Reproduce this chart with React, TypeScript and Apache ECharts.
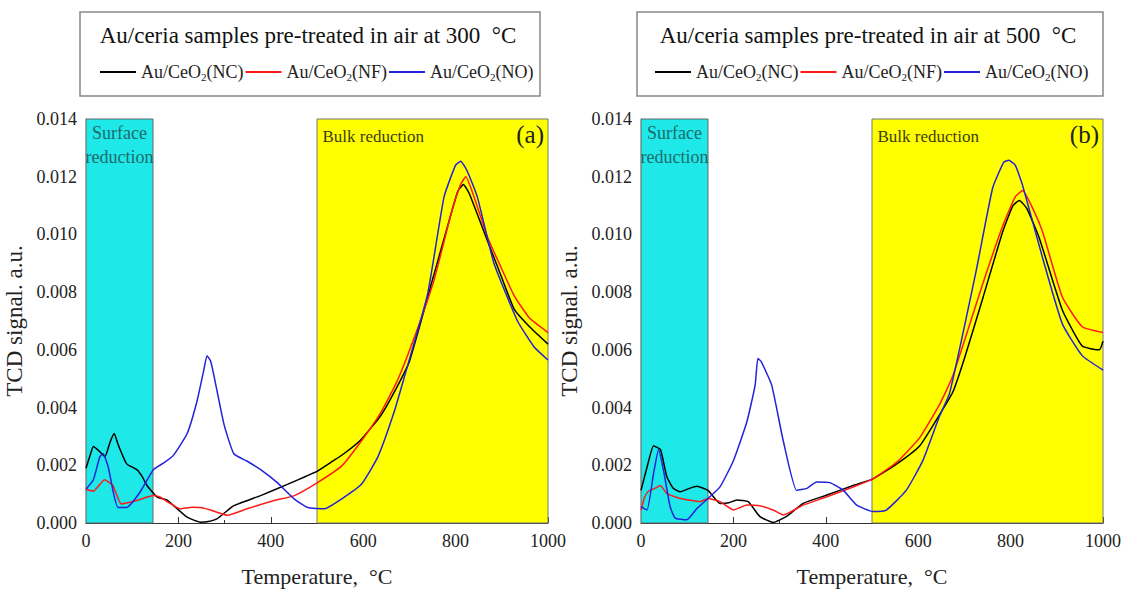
import React, { useEffect, useRef } from "react";
import * as echarts from "echarts";

const seriesNames = ["Au/CeO2(NC)", "Au/CeO2(NF)", "Au/CeO2(NO)"];
const seriesColors = ["#000000", "#ff1a1a", "#2222d8"];
const panelTitles = [
  "Au/ceria samples pre-treated in air at 300  °C",
  "Au/ceria samples pre-treated in air at 500  °C",
];
const panelTags = ["(a)", "(b)"];
const surfaceRange = [0, 145];
const bulkRange = [500, 1000];
const xTicks = { min: 0, max: 1000, interval: 200 };
const yTicks = { min: 0, max: 0.014, interval: 0.002 };

// Panel (a): pre-treated at 300 °C  — [temperature, TCD signal]
const ncA = [[0,0.0019],[8,0.0023],[16,0.00265],[28,0.0025],[41,0.0023],[52,0.0028],[61,0.0031],[70,0.0027],[88,0.00205],[110,0.00185],[122,0.0016],[132,0.0013],[154,0.0009],[175,0.0008],[190,0.0006],[219,0.0002],[248,0.00003],[265,0.00005],[284,0.00015],[320,0.0006],[378,0.00095],[436,0.00134],[501,0.0018],[530,0.0021],[558,0.0024],[594,0.00287],[637,0.0037],[666,0.0045],[700,0.0056],[753,0.0086],[790,0.0107],[805,0.0115],[817,0.01173],[830,0.0114],[866,0.0099],[900,0.0085],[927,0.0074],[960,0.0068],[1000,0.0062]];
const nfA = [[0,0.00117],[16,0.0011],[28,0.0013],[40,0.0015],[58,0.0013],[76,0.00066],[90,0.0007],[110,0.00078],[146,0.00095],[160,0.0009],[180,0.0007],[203,0.00049],[230,0.00055],[248,0.00054],[270,0.00045],[284,0.00037],[306,0.00027],[350,0.0005],[407,0.00078],[451,0.00095],[501,0.0014],[553,0.00197],[594,0.0028],[637,0.0038],[673,0.0049],[710,0.0064],[753,0.0084],[790,0.0107],[810,0.0117],[822,0.012],[840,0.0113],[869,0.0099],[900,0.0088],[926,0.0079],[960,0.0071],[1000,0.0066]];
const noA = [[0,0.00117],[16,0.0015],[30,0.0023],[37,0.0024],[48,0.00195],[60,0.001],[69,0.00054],[88,0.00054],[116,0.00105],[146,0.00185],[170,0.0021],[190,0.00236],[219,0.0031],[240,0.0042],[255,0.0053],[262,0.0058],[270,0.0056],[277,0.0051],[299,0.0034],[320,0.0024],[349,0.00214],[378,0.00185],[414,0.0014],[451,0.00083],[480,0.00054],[516,0.00049],[553,0.00083],[596,0.00134],[632,0.0023],[666,0.0038],[688,0.005],[739,0.0079],[775,0.0113],[800,0.0124],[811,0.01254],[825,0.0122],[847,0.0113],[883,0.009],[934,0.007],[970,0.0061],[1000,0.00565]];

// Panel (b): pre-treated at 500 °C
const ncB = [[0,0.00113],[13,0.00193],[27,0.00267],[42,0.00255],[56,0.0016],[70,0.0012],[85,0.00108],[105,0.0012],[121,0.00127],[145,0.00113],[171,0.00068],[190,0.0007],[207,0.0008],[232,0.00074],[257,0.00023],[286,0.00002],[315,0.00023],[351,0.00068],[401,0.00096],[459,0.0013],[502,0.00153],[553,0.00204],[603,0.00267],[646,0.00375],[675,0.00454],[700,0.0057],[740,0.0078],[783,0.0101],[805,0.011],[819,0.01118],[835,0.0109],[862,0.00988],[912,0.00738],[955,0.00613],[992,0.006],[1000,0.0063]];
const nfB = [[0,0.00045],[8,0.0009],[16,0.0011],[30,0.0012],[42,0.0013],[56,0.00102],[85,0.00085],[128,0.00074],[145,0.00085],[171,0.00074],[200,0.00045],[229,0.00062],[257,0.0006],[286,0.00045],[308,0.00028],[351,0.00062],[401,0.0009],[459,0.00125],[502,0.00153],[553,0.0021],[603,0.00295],[646,0.0041],[675,0.0051],[740,0.0083],[783,0.0103],[810,0.0113],[826,0.01152],[845,0.011],[869,0.0101],[912,0.00783],[955,0.0068],[1000,0.0066]];
const noB = [[0,0.00057],[13,0.00045],[27,0.0017],[38,0.00255],[49,0.0018],[63,0.00057],[74,0.00017],[99,0.00011],[121,0.0005],[145,0.00085],[171,0.00125],[200,0.00216],[229,0.0035],[247,0.00477],[253,0.0057],[260,0.0056],[283,0.00477],[308,0.00284],[337,0.00113],[359,0.0012],[380,0.00142],[409,0.0014],[438,0.00113],[467,0.00062],[502,0.0004],[531,0.00045],[574,0.00113],[610,0.00216],[646,0.0037],[668,0.0045],[725,0.0087],[761,0.0116],[785,0.0125],[796,0.01257],[810,0.0124],[826,0.0117],[869,0.0092],[912,0.0069],[955,0.0058],[1000,0.0053]];

const panelData = [
  [ncA, nfA, noA],
  [ncB, nfB, noB],
];

const FONT = "'Liberation Serif', 'Times New Roman', serif";

export default function App() {
  const ref = useRef<HTMLDivElement>(null);
  useEffect(() => {
    if (!ref.current) return;
    const chart = echarts.init(ref.current, null, { renderer: "svg" });
    const grids = [
      { left: 86, top: 119, width: 462, height: 411 },
      { left: 641, top: 119, width: 462, height: 411 },
    ];
    const xAxes = grids.map((_, i) => ({
      type: "value",
      gridIndex: i,
      min: xTicks.min,
      max: xTicks.max,
      interval: xTicks.interval,
      name: "Temperature,  °C",
      nameLocation: "middle",
      nameGap: 42,
      nameTextStyle: { fontFamily: FONT, fontSize: 22, color: "#222" },
      axisLine: { show: true, lineStyle: { color: "#333", width: 1.2 } },
      axisTick: { show: true, inside: true, length: 6, lineStyle: { color: "#333" } },
      minorTick: { show: true, splitNumber: 2, length: 3, lineStyle: { color: "#333" } },
      splitLine: { show: false },
      axisLabel: {
        fontFamily: FONT,
        fontSize: 18,
        color: "#222",
        margin: 9,
        formatter: (v: number) => String(v),
      },
    }));
    const yAxes = grids.map((_, i) => ({
      type: "value",
      gridIndex: i,
      min: yTicks.min,
      max: yTicks.max,
      interval: yTicks.interval,
      name: "TCD signal. a.u.",
      nameLocation: "middle",
      nameGap: 60,
      nameTextStyle: { fontFamily: FONT, fontSize: 23, color: "#222" },
      axisLine: { show: true, lineStyle: { color: "#333", width: 1.2 } },
      axisTick: { show: true, inside: true, length: 6, lineStyle: { color: "#333" } },
      minorTick: { show: true, splitNumber: 2, length: 3, lineStyle: { color: "#333" } },
      splitLine: { show: false },
      axisLabel: {
        fontFamily: FONT,
        fontSize: 18,
        color: "#222",
        margin: 9,
        formatter: (v: number) => v.toFixed(3),
      },
    }));

    const series: any[] = [];
    grids.forEach((_, i) => {
      series.push({
        type: "line",
        xAxisIndex: i,
        yAxisIndex: i,
        data: [],
        z: 0,
        silent: true,
        markArea: {
          silent: true,
          label: { show: true, fontFamily: FONT, fontSize: 18, lineHeight: 24 },
          data: [
            [
              {
                xAxis: surfaceRange[0],
                itemStyle: { color: "#1fe8e8", borderColor: "#666", borderWidth: 1 },
                label: {
                  show: true,
                  position: "insideTop",
                  formatter: "Surface\nreduction",
                  fontFamily: FONT,
                  fontSize: 18,
                  lineHeight: 24,
                  color: "#1d6b6b",
                  distance: 2,
                },
              },
              { xAxis: surfaceRange[1] },
            ],
            [
              {
                xAxis: bulkRange[0],
                itemStyle: { color: "#ffff00", borderColor: "#777", borderWidth: 1 },
                label: {
                  show: true,
                  position: "insideTopLeft",
                  formatter: "Bulk reduction",
                  fontFamily: FONT,
                  fontSize: 17,
                  color: "#3d3d10",
                  distance: 6,
                },
              },
              { xAxis: bulkRange[1] },
            ],
          ],
        },
      });
      seriesNames.forEach((name, k) => {
        series.push({
          type: "line",
          name,
          xAxisIndex: i,
          yAxisIndex: i,
          data: panelData[i][k],
          symbol: "none",
          smooth: 0.15,
          z: 3,
          lineStyle: { color: seriesColors[k], width: 1.5 },
          itemStyle: { color: seriesColors[k] },
        });
      });
    });

    const legendRich = {
      sub: { fontFamily: FONT, fontSize: 11, color: "#222", padding: [10, 0, 0, 0] },
    };
    const legends = [95, 650].map((left) => ({
      left,
      top: 58,
      data: seriesNames,
      icon: "rect",
      itemWidth: 36,
      itemHeight: 2,
      itemGap: 2,
      selectedMode: false,
      formatter: (n: string) => n.replace("CeO2", "CeO{sub|2}"),
      textStyle: { fontFamily: FONT, fontSize: 18, color: "#222", rich: legendRich },
    }));

    const boxes = [
      { x: 80, w: 460 },
      { x: 637, w: 466 },
    ];
    const graphic: any[] = [];
    boxes.forEach((b, i) => {
      graphic.push({
        type: "rect",
        shape: { x: b.x, y: 12, width: b.w, height: 84 },
        style: { fill: "#fff", stroke: "#888", lineWidth: 1.5 },
        z: -1,
      });
      graphic.push({
        type: "text",
        x: b.x + b.w / 2 - 2,
        y: 35,
        style: {
          text: panelTitles[i],
          fontFamily: FONT,
          fontSize: 23,
          fill: "#111",
          align: "center",
          verticalAlign: "middle",
        },
      });
      graphic.push({
        type: "text",
        x: grids[i].left + grids[i].width - 4,
        y: 134,
        style: {
          text: panelTags[i],
          fontFamily: FONT,
          fontSize: 25,
          fill: "#222",
          align: "right",
          verticalAlign: "middle",
        },
        z: 10,
      });
    });

    chart.setOption({
      animation: false,
      backgroundColor: "#fff",
      grid: grids,
      xAxis: xAxes,
      yAxis: yAxes,
      legend: legends,
      series,
      graphic,
    });
    return () => chart.dispose();
  }, []);
  return (
    <div
      ref={ref}
      style={{ position: "fixed", left: 0, top: 0, width: 1129, height: 592 }}
    />
  );
}
